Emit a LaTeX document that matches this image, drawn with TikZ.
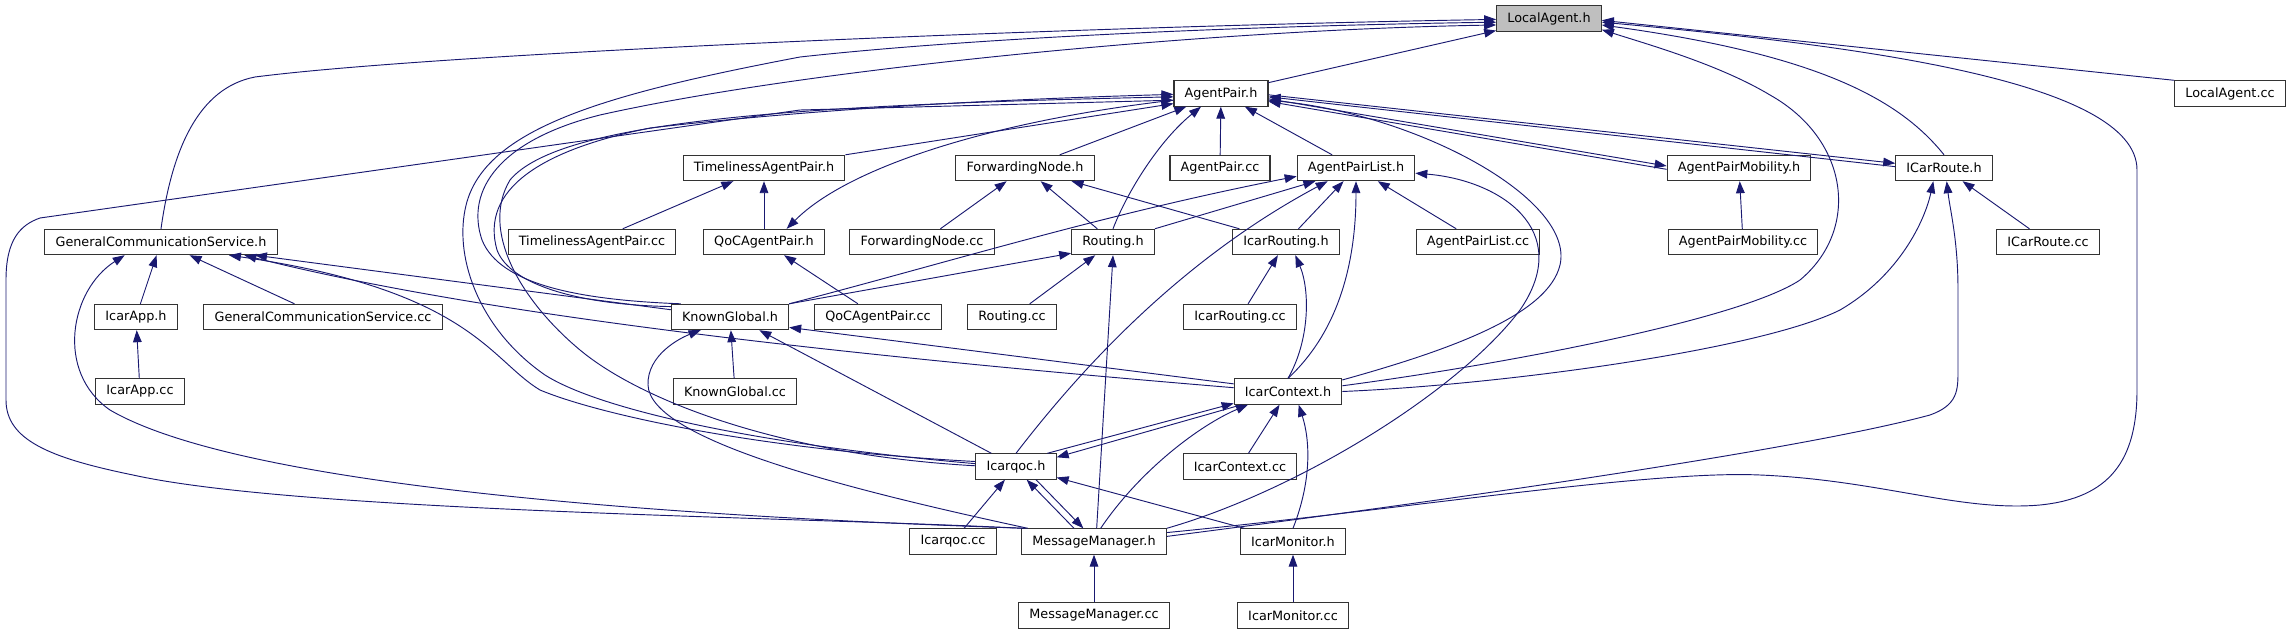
\documentclass[tikz,border=0pt]{standalone}
\usepackage{fontspec}
\setmainfont{DejaVu Sans}
\usetikzlibrary{arrows.meta}

\definecolor{edgeblue}{RGB}{25,25,112}
\definecolor{rootgray}{RGB}{191,191,191}

\tikzset{
  filebox/.style={draw=black!80, line width=0.8pt, fill=white,
    inner xsep=8pt, inner ysep=0pt, minimum height=19pt,
    font=\fontsize{9.6}{11}\selectfont},
  rootbox/.style={filebox, fill=rootgray},
  incl/.style={draw=edgeblue, line width=0.7pt,
    -{Triangle[length=9pt,width=6.5pt]}}
}

\begin{document}
\begin{tikzpicture}[x=0.75pt,y=-0.75pt]
\useasboundingbox (0,0) rectangle (2292,635);

% files, row by row
\node[rootbox] (localagent) at (1549,18.5) {LocalAgent.h};

\node[filebox] (agentpair) at (1221,93.5) {AgentPair.h};
\node[filebox] (localagentcc) at (2230,93.5) {LocalAgent.cc};

\node[filebox] (timeliness) at (764,168) {TimelinessAgentPair.h};
\node[filebox] (fwdnode) at (1025,168) {ForwardingNode.h};
\node[filebox] (agentpaircc) at (1220,168) {AgentPair.cc};
\node[filebox] (pairlist) at (1356,168) {AgentPairList.h};
\node[filebox] (mobility) at (1739,168) {AgentPairMobility.h};
\node[filebox] (carroute) at (1944,168) {ICarRoute.h};

\node[filebox] (gcs) at (161,242) {GeneralCommunicationService.h};
\node[filebox] (timelinesscc) at (592,242) {TimelinessAgentPair.cc};
\node[filebox] (qocpair) at (764,242) {QoCAgentPair.h};
\node[filebox] (fwdnodecc) at (922,242) {ForwardingNode.cc};
\node[filebox] (routing) at (1113,242) {Routing.h};
\node[filebox] (icarrouting) at (1286,242) {IcarRouting.h};
\node[filebox] (pairlistcc) at (1478,242) {AgentPairList.cc};
\node[filebox] (mobilitycc) at (1743,242) {AgentPairMobility.cc};
\node[filebox] (carroutecc) at (2048,242) {ICarRoute.cc};

\node[filebox] (icarapp) at (136,317) {IcarApp.h};
\node[filebox] (gcscc) at (323,317) {GeneralCommunicationService.cc};
\node[filebox] (known) at (730,317) {KnownGlobal.h};
\node[filebox] (qocpaircc) at (878,317) {QoCAgentPair.cc};
\node[filebox] (routingcc) at (1012,317) {Routing.cc};
\node[filebox] (icarroutingcc) at (1240,317) {IcarRouting.cc};

\node[filebox] (icarappcc) at (140,391.5) {IcarApp.cc};
\node[filebox] (knowncc) at (735,391.5) {KnownGlobal.cc};
\node[filebox] (context) at (1288,391.5) {IcarContext.h};

\node[filebox] (icarqoc) at (1016,466.5) {Icarqoc.h};
\node[filebox] (contextcc) at (1240,466.5) {IcarContext.cc};

\node[filebox] (icarqoccc) at (953,541.5) {Icarqoc.cc};
\node[filebox] (msgmgr) at (1094,541.5) {MessageManager.h};
\node[filebox] (monitor) at (1293,541.5) {IcarMonitor.h};

\node[filebox] (msgmgrcc) at (1094,615.5) {MessageManager.cc};
\node[filebox] (monitorcc) at (1293,615.5) {IcarMonitor.cc};

% includes of LocalAgent.h
\draw[incl] (agentpair) -- (localagent);
\draw[incl] (gcs.north) .. controls (172,150) and (198,88) .. (255,77)
  .. controls (450,52) and (1100,26) .. (localagent.181);
\draw[incl] (icarqoc.176) .. controls (760,445) and (600,410) .. (545,375)
  .. controls (480,330) and (455,260) .. (465,210)
  .. controls (480,130) and (600,95) .. (800,57)
  .. controls (1000,35) and (1300,25) .. (localagent.184);
\draw[incl] (known.165) .. controls (580,300) and (500,285) .. (482,240)
  .. controls (465,190) and (500,140) .. (600,115)
  .. controls (800,70) and (1200,30) .. (localagent.187);
\draw[incl] (localagentcc.north west) -- (localagent.-2);
\draw[incl] (carroute.north) .. controls (1900,100) and (1820,55) .. (localagent.-7);
\draw[incl] (context.6) .. controls (1500,365) and (1740,320) .. (1800,280)
  .. controls (1860,230) and (1850,140) .. (1770,95)
  .. controls (1720,65) and (1650,45) .. (localagent.-12);
\draw[incl] (msgmgr.7) .. controls (1400,510) and (1650,470) .. (1760,475)
  .. controls (1880,480) and (1960,512) .. (2040,505)
  .. controls (2110,498) and (2137,460) .. (2137,390) -- (2137,170)
  .. controls (2137,80) and (1850,45) .. (localagent.-4);

% includes of AgentPair.h
\draw[incl] (timeliness.north east) -- (agentpair.-168);
\draw[incl] (fwdnode) -- (agentpair);
\draw[incl] (agentpaircc) -- (agentpair);
\draw[incl] (pairlist) -- (agentpair);
\draw[incl] (routing.north) .. controls (1128,190) and (1160,140) .. ([xshift=-15pt]agentpair.south);
\draw[incl] (known.170) .. controls (580,305) and (510,285) .. (497,250)
  .. controls (480,190) and (540,150) .. (650,128)
  .. controls (850,105) and (1050,98) .. (agentpair.181);
\draw[incl] (icarqoc.179) .. controls (780,455) and (640,400) .. (580,350)
  .. controls (520,300) and (480,230) .. (510,180)
  .. controls (560,120) and (800,105) .. (agentpair.184);
\draw[incl] ([xshift=1pt]msgmgr.north west) .. controls (800,517) and (300,512) .. (133,475)
  .. controls (50,458) and (6,440) .. (6,400) -- (6,280)
  .. controls (6,240) and (20,225) .. (40,218) -- (800,110) -- (agentpair.188);
\draw[incl] (context.12) .. controls (1450,350) and (1548,315) .. (1560,265)
  .. controls (1575,200) and (1420,115) .. (agentpair.-8);
\draw[incl] ([yshift=-1pt]mobility.west) -- ([yshift=-6pt]agentpair.east);
\draw[incl] ([yshift=1pt]carroute.west) -- ([yshift=-2.5pt]agentpair.east);

% AgentPair.h includes
\draw[incl] (agentpair.-172) .. controls (1000,120) and (850,165) .. ([xshift=17pt]qocpair.north);
\draw[incl] ([yshift=-4pt]agentpair.east) -- ([yshift=1.5pt]mobility.west);
\draw[incl] ([yshift=-1pt]agentpair.east) -- ([yshift=3.5pt]carroute.west);

% third row headers
\draw[incl] (timelinesscc) -- (timeliness);
\draw[incl] (qocpair) -- (timeliness);
\draw[incl] (fwdnodecc) -- (fwdnode);
\draw[incl] (routing) -- (fwdnode);
\draw[incl] (icarrouting) -- (fwdnode);
\draw[incl] (pairlistcc) -- (pairlist);
\draw[incl] (icarrouting) -- (pairlist);
\draw[incl] (routing.north east) -- (pairlist.-162);
\draw[incl] (known.north east) .. controls (950,262) and (1100,215) .. (pairlist.-172);
\draw[incl] (icarqoc.north) .. controls (1080,370) and (1180,260) .. (pairlist.-155);
\draw[incl] (context.north) .. controls (1340,330) and (1356,260) .. (pairlist.south);
\draw[incl] (msgmgr.north east) .. controls (1300,490) and (1460,390) .. (1520,310)
  .. controls (1575,230) and (1500,180) .. (pairlist.-5);
\draw[incl] (mobilitycc) -- (mobility);
\draw[incl] (carroutecc) -- (carroute);
\draw[incl] (context.0) .. controls (1500,385) and (1760,350) .. (1840,310)
  .. controls (1900,275) and (1925,220) .. ([xshift=-8pt]carroute.south);
\draw[incl] (msgmgr.4) .. controls (1450,500) and (1800,450) .. (1930,415)
  .. controls (1958,405) and (1958,390) .. (1958,370) -- (1958,290)
  .. controls (1958,240) and (1950,210) .. ([xshift=2pt]carroute.south);

% fourth row headers
\draw[incl] (icarapp) -- (gcs);
\draw[incl] (gcscc) -- (gcs);
\draw[incl] (known.173) -- (gcs.-8);
\draw[incl] (context.176) .. controls (900,360) and (500,320) .. (gcs.-9.5);
\draw[incl] (icarqoc.173) .. controls (760,450) and (600,415) .. (540,390)
  .. controls (490,360) and (470,290) .. (gcs.-11);
\draw[incl] ([xshift=3pt]msgmgr.north west) .. controls (600,514) and (230,480) .. (110,410)
  .. controls (55,372) and (70,290) .. (gcs.-160);
\draw[incl] (qocpaircc) -- (qocpair);
\draw[incl] (routingcc) -- (routing);
\draw[incl] (known.north east) -- (routing.-165);
\draw[incl] ([xshift=2pt]msgmgr.north) -- (routing.south);
\draw[incl] (icarroutingcc) -- (icarrouting);
\draw[incl] (context.north) .. controls (1310,340) and (1310,290) .. ([xshift=7pt]icarrouting.south);

% lower headers
\draw[incl] (icarappcc) -- (icarapp);
\draw[incl] (knowncc) -- (known);
\draw[incl] ([xshift=12pt]icarqoc.north west) -- ([xshift=22pt]known.south);
\draw[incl] (context.172) -- (known.-10);
\draw[incl] ([xshift=5pt]msgmgr.north west) .. controls (850,490) and (650,440) .. (648,385)
  .. controls (647,355) and (680,338) .. ([xshift=-22pt]known.south);
\draw[incl] (contextcc) -- (context);
\draw[incl] ([xshift=-7pt]icarqoc.north east) -- ([yshift=1pt]context.south west);
\draw[incl] ([xshift=6pt]context.south west) -- ([yshift=-3pt]icarqoc.north east);
\draw[incl] ([xshift=5pt]msgmgr.north) .. controls (1140,470) and (1200,425) .. ([xshift=-30pt]context.south);
\draw[incl] (monitor.north) .. controls (1312,480) and (1310,440) .. ([xshift=8pt]context.south);
\draw[incl] (monitor) -- (icarqoc);
\draw[incl] (icarqoccc) -- (icarqoc);
\draw[incl] ([xshift=-15pt]msgmgr.north) -- ([xshift=8pt]icarqoc.south);
\draw[incl] ([xshift=15pt]icarqoc.south) -- ([xshift=-8pt]msgmgr.north);
\draw[incl] (msgmgrcc) -- (msgmgr);
\draw[incl] (monitorcc) -- (monitor);
\end{tikzpicture}
\end{document}
